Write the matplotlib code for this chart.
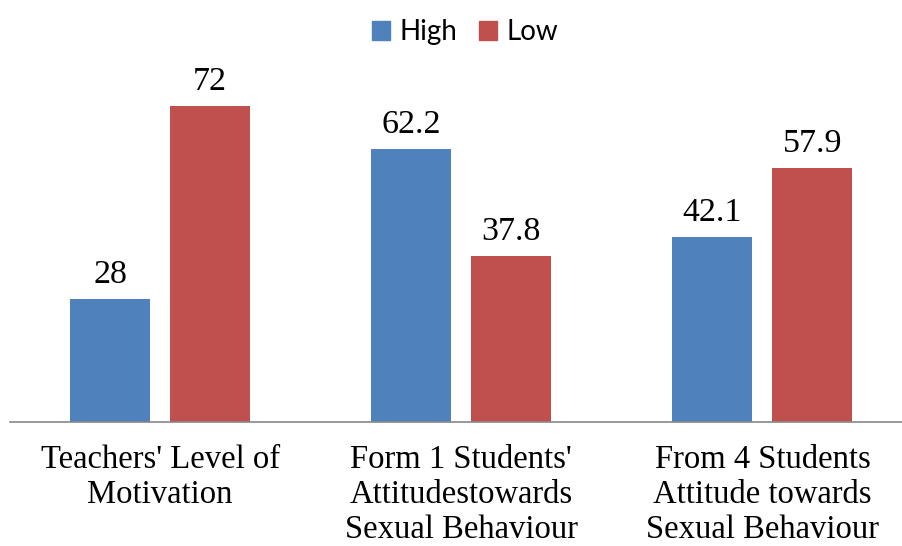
import numpy as np
import matplotlib
matplotlib.use('Agg')
import matplotlib.pyplot as plt
from matplotlib.patches import Patch

categories = ["Teachers' Level of\nMotivation",
              "Form 1 Students'\nAttitudestowards\nSexual Behaviour",
              "From 4 Students\nAttitude towards\nSexual Behaviour"]
high = [28, 62.2, 42.1]
low = [72, 37.8, 57.9]
value_labels_high = ['28', '62.2', '42.1']
value_labels_low = ['72', '37.8', '57.9']

BLUE = '#4F81BD'
RED = '#C0504D'
SERIF = 'Liberation Serif'

fig = plt.figure(figsize=(9.03, 5.46), dpi=100)
ax = fig.add_axes([9.5 / 903, 124 / 546, 1 - 9.5 / 903, (422 - 70.8) / 546])

x = np.arange(len(categories))
w = 0.266
off = 0.166
ax.bar(x - off, high, w, color=BLUE)
ax.bar(x + off, low, w, color=RED)

for xi, v, s in zip(x - off, high, value_labels_high):
    ax.annotate(s, (xi, v), xytext=(0, 9), textcoords='offset pixels',
                ha='center', va='bottom', fontsize=24.5, family=SERIF)
for xi, v, s in zip(x + off, low, value_labels_low):
    ax.annotate(s, (xi, v), xytext=(0, 9), textcoords='offset pixels',
                ha='center', va='bottom', fontsize=24.5, family=SERIF)

ax.set_xlim(-0.5, 2.5 - 10 / 301)
ax.set_ylim(0, 80)
ax.set_xticks(x)
ax.set_xticklabels(categories, fontsize=23.5, family=SERIF, linespacing=1.19)
ax.tick_params(axis='x', length=0, pad=16)
ax.set_yticks([])
for side in ['top', 'right', 'left']:
    ax.spines[side].set_visible(False)
ax.spines['bottom'].set_color('#888888')
ax.spines['bottom'].set_linewidth(1.2)

handles = [Patch(color=BLUE, label='High'), Patch(color=RED, label='Low')]
fig.legend(handles=handles, loc='center', bbox_to_anchor=(465 / 903, 1 - 32 / 546),
           ncol=2, frameon=False, prop={'family': 'Lato', 'size': 20},
           handlelength=0.65, handleheight=0.65, handletextpad=0.32,
           columnspacing=0.8)

fig.savefig('out.png', dpi=100)
